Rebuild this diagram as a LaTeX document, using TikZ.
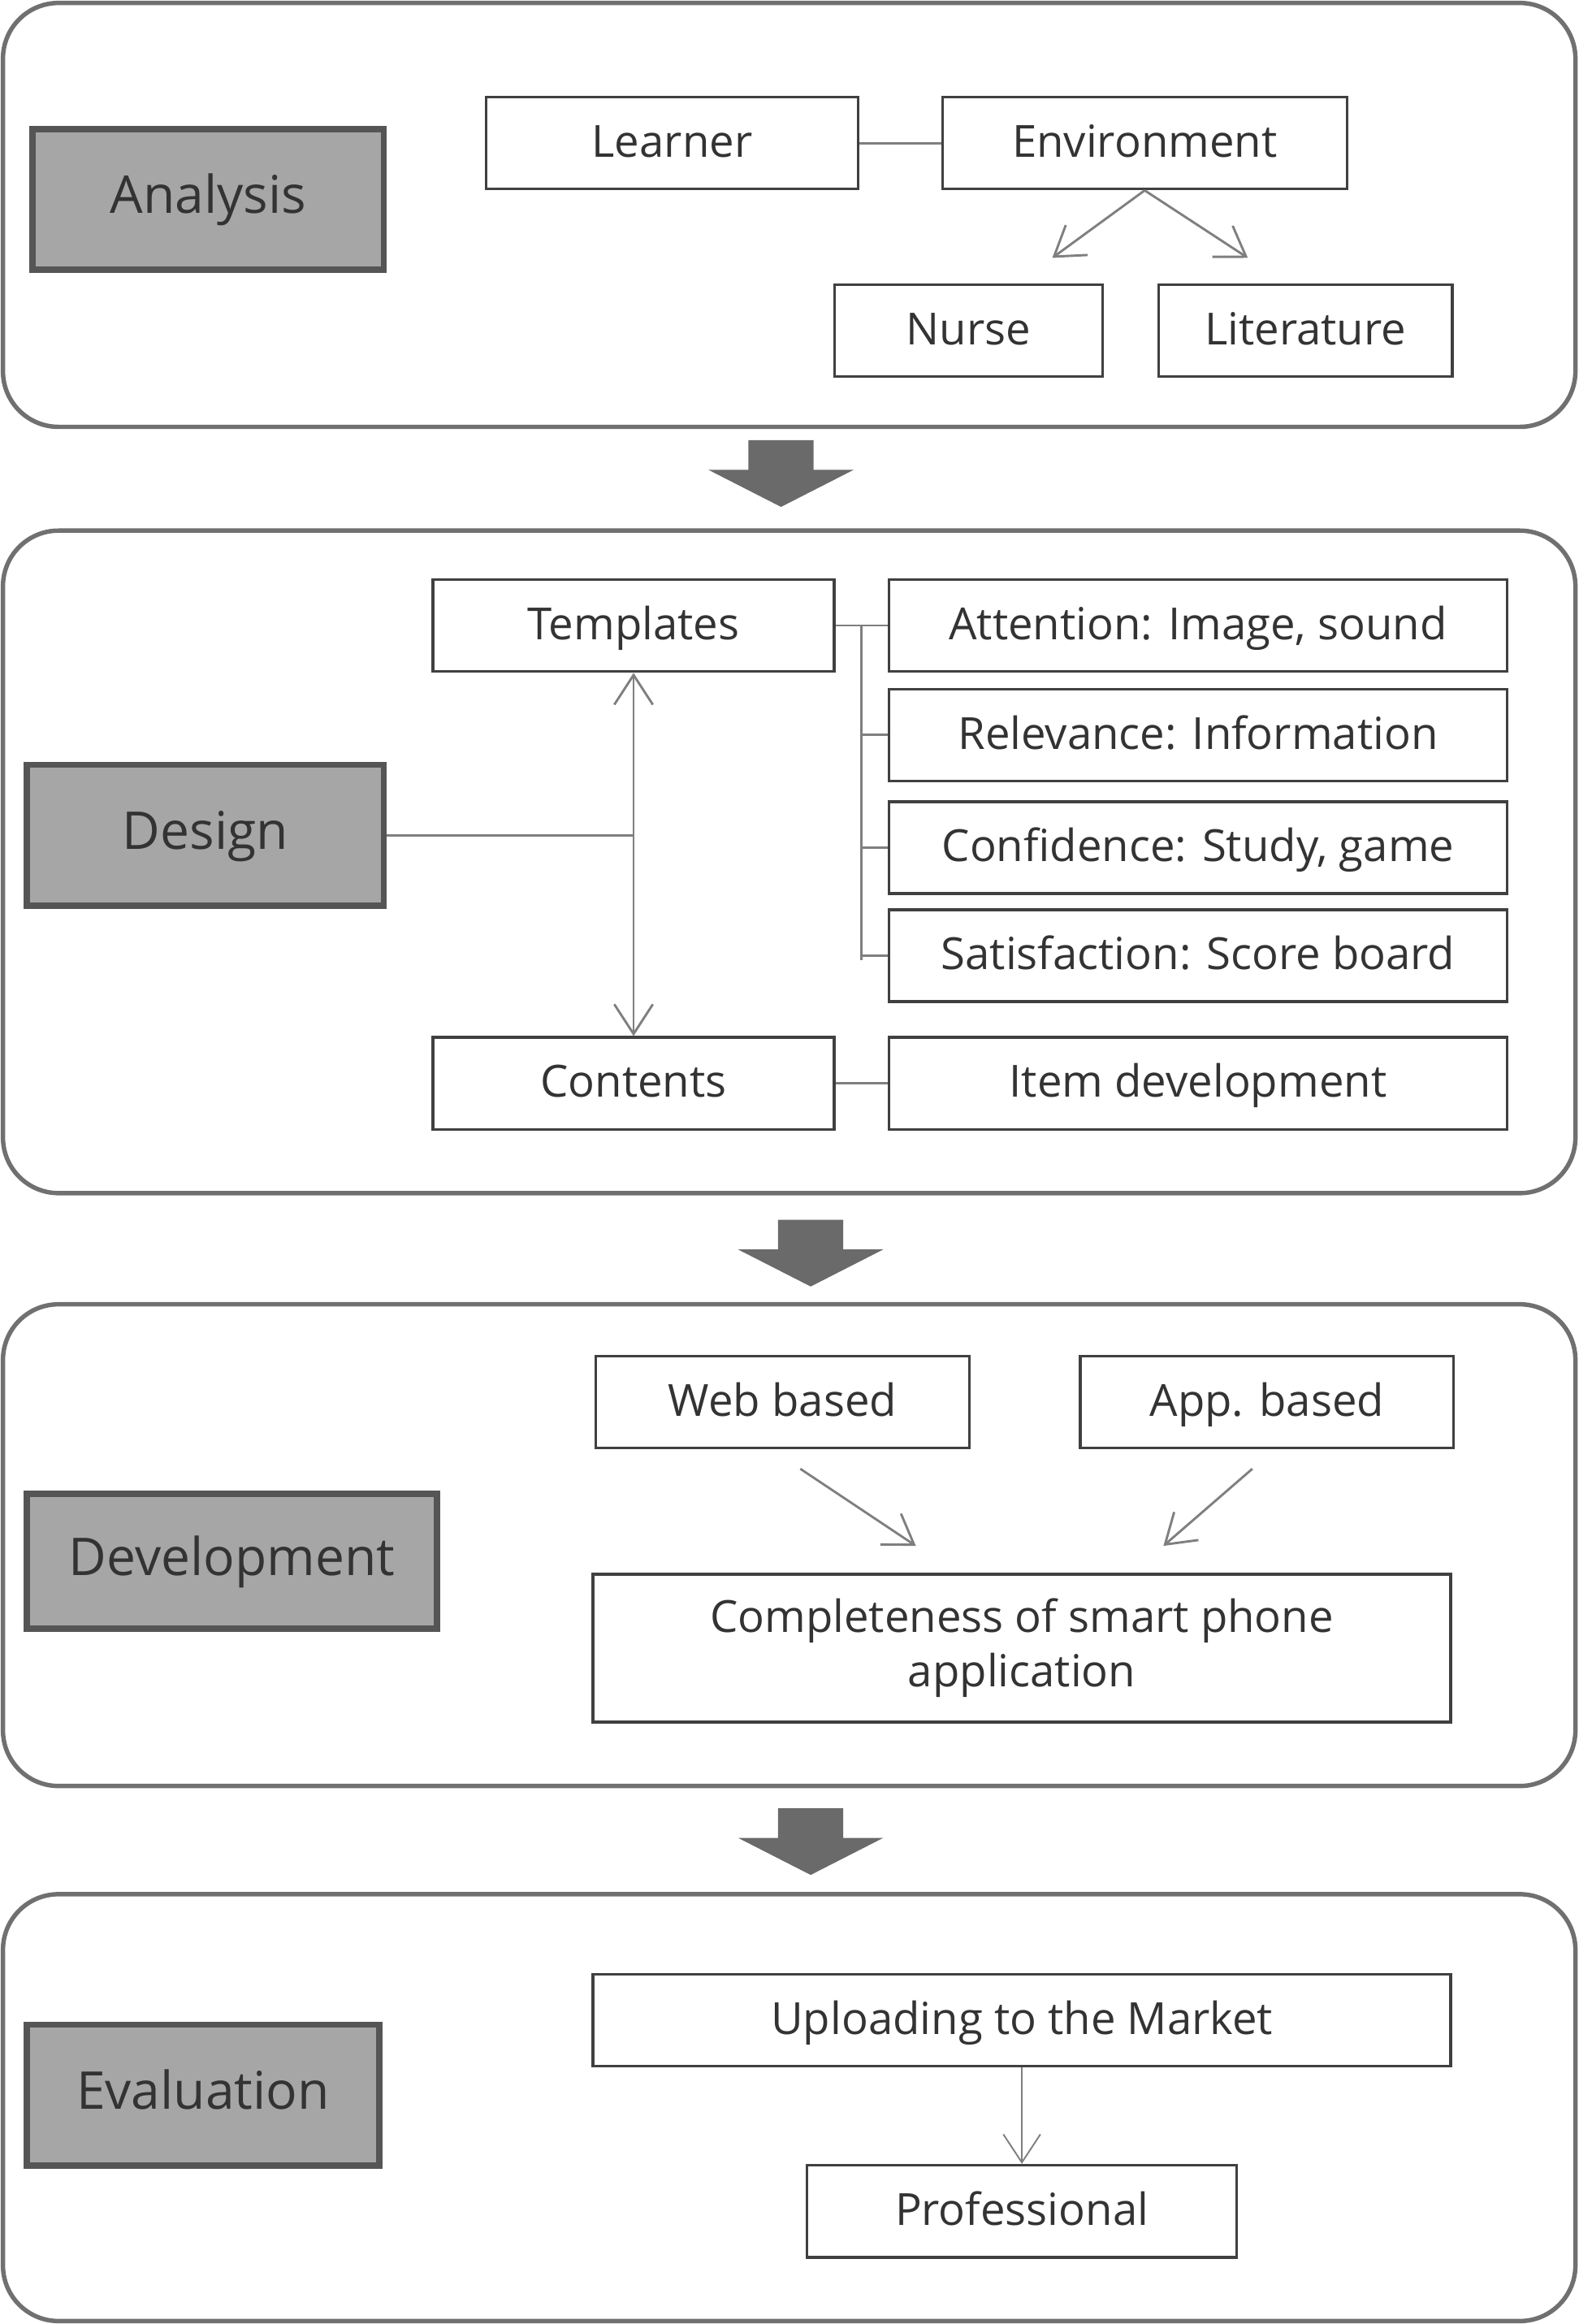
\documentclass[tikz,border=0pt]{standalone}
\usepackage{fontspec}
\setmainfont{Open Sans}
\usepackage{tikz}
\usetikzlibrary{arrows.meta,positioning,calc}
\definecolor{panelline}{HTML}{707070}
\definecolor{boxline}{HTML}{404040}
\definecolor{stagefill}{HTML}{A6A6A6}
\definecolor{stageline}{HTML}{555555}
\definecolor{linkgray}{HTML}{7F7F7F}
\definecolor{blockgray}{HTML}{6A6A6A}
\definecolor{txt}{HTML}{333333}
\tikzset{
	panel/.style={
		draw=panelline,
		line width=1.7pt,
		rounded corners=0.75cm,
	},
	stage/.style={
		rectangle,
		draw=stageline,
		line width=2.4pt,
		fill=stagefill,
		inner sep=0pt,
		text height=2.5ex,
		text depth=0.5ex,
		text=txt,
		font=\fontsize{20}{24}\selectfont,
	},
	itembase/.style={
		rectangle,
		draw=boxline,
		line width=1.1pt,
		fill=white,
		minimum height=1.24cm,
		inner sep=0pt,
		text=txt,
		font=\fontsize{17}{21}\selectfont,
	},
	item/.style={
		itembase,
		text height=2.5ex,
		text depth=0.5ex,
	},
	link/.style={
		draw=linkgray,
		line width=0.9pt,
	},
	tip/.style={
		-{Straight Barb[length=3.8mm,width=5mm]}
	}
}

\begin{document}
\begin{tikzpicture}[x=0.02cm,y=-0.02cm]
		\useasboundingbox (0,0) rectangle (1065,1568);
		% panels
		\draw [panel] (2,2) rectangle (1063,288);
		\draw [panel] (2,358) rectangle (1063,805);
		\draw [panel] (2,880) rectangle (1063,1205);
		\draw [panel] (2,1278) rectangle (1063,1566);
		% block arrows between panels
		\foreach \cx/\ty in {527/297,547/823,547/1220}
		\fill [blockgray] ({\cx-22},\ty) -- ({\cx+22},\ty) -- ({\cx+22},{\ty+20}) -- ({\cx+49},{\ty+20})
		-- (\cx,{\ty+45}) -- ({\cx-49},{\ty+20}) -- ({\cx-22},{\ty+20}) -- cycle;

		% analysis
		\node [stage,minimum width=4.74cm,minimum height=1.9cm] (analysis) at (140.5,134.5) {Analysis};
		\node [item,minimum width=5.02cm] (learner) at (453.5,96.5) {Learner};
		\node [item,minimum width=5.46cm] (env) [right=1.1cm of learner] {Environment};
		\node [item,minimum width=3.62cm] (nurse) at (653.5,223) {Nurse};
		\node [item,minimum width=3.96cm] (lit) [right=0.72cm of nurse] {Literature};
		\coordinate (nursetip) at (710,174);
		\coordinate (littip) at (842,174);
		\draw [link] (learner) -- (env);
		\draw [link,tip] (env.south) -- (nursetip);
		\draw [link,tip] (env.south) -- (littip);

		% design
		\node [stage,minimum width=4.82cm,minimum height=1.9cm] (design) at (138.5,563.5) {Design};
		\node [item,minimum width=5.42cm] (templ) at (427.5,422) {Templates};
		\node [item,minimum width=5.42cm] (contents) at (427.5,731) {Contents};
		\node [item,minimum width=8.34cm] (att) [right=0.7cm of templ] {Attention: Image, sound};
		\node [item,minimum width=8.34cm] (rel) [below=0.2cm of att] {Relevance: Information};
		\node [item,minimum width=8.34cm] (conf) [below=0.24cm of rel] {Confidence: Study, game};
		\node [item,minimum width=8.34cm] (sat) [below=0.18cm of conf] {Satisfaction: Score board};
		\node [item,minimum width=8.34cm] (itemdev) [right=0.7cm of contents] {Item development};
		\coordinate (brk) at (581,422);
		\draw [link] (templ) -- (att);
		\draw [link] (brk) -- ($(brk |- sat.west)+(0,3)$);
		\draw [link] (brk |- rel.west) -- (rel.west);
		\draw [link] (brk |- conf.west) -- (conf.west);
		\draw [link] (brk |- sat.west) -- (sat.west);
		\draw [link] (design.east) -- (design.east -| templ.south);
		\draw [link,{Straight Barb[length=4mm,width=5.2mm]}-{Straight Barb[length=4mm,width=5.2mm]}] (templ.south) -- (contents.north);
		\draw [link] (contents) -- (itemdev);

		% development
		\node [stage,minimum width=5.54cm,minimum height=1.82cm] (devel) at (156.5,1053.5) {Development};
		\node [item,minimum width=5.04cm] (web) at (528,946) {Web based};
		\node [item,minimum width=5.04cm] (app) [right=1.46cm of web] {App. based};
		\node [itembase,minimum width=11.58cm,minimum height=2cm,align=center] (compl) at (689.5,1112)
		{Completeness of smart phone\\application};
		\coordinate (webfrom) at (540,991);
		\coordinate (webto) at (618,1043);
		\coordinate (appfrom) at (845,991);
		\coordinate (appto) at (785,1043);
		\draw [link,tip] (webfrom) -- (webto);
		\draw [link,tip] (appfrom) -- (appto);

		% evaluation
		\node [stage,minimum width=4.76cm,minimum height=1.9cm] (eval) at (137,1413.5) {Evaluation};
		\node [item,minimum width=11.58cm] (upload) at (689.5,1363) {Uploading to the Market};
		\node [item,minimum width=5.8cm] (prof) [below=1.3cm of upload] {Professional};
		\draw [link,line width=0.6pt,tip] (upload.south) -- (prof.north);
\end{tikzpicture}
\end{document}
